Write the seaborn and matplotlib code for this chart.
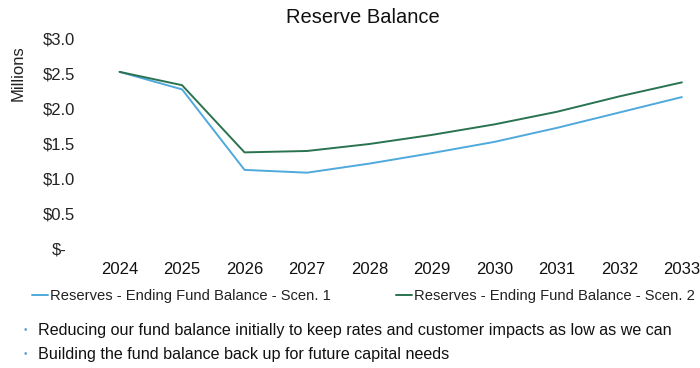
import matplotlib
matplotlib.use("Agg")
import matplotlib.pyplot as plt
import seaborn as sns
import pandas as pd
from matplotlib.lines import Line2D

years = [2024, 2025, 2026, 2027, 2028, 2029, 2030, 2031, 2032, 2033]
scen1 = [2.52, 2.27, 1.12, 1.08, 1.21, 1.36, 1.52, 1.72, 1.94, 2.16]
scen2 = [2.52, 2.33, 1.37, 1.39, 1.49, 1.62, 1.77, 1.95, 2.17, 2.37]
series_names = ["Reserves - Ending Fund Balance - Scen. 1",
                "Reserves - Ending Fund Balance - Scen. 2"]
y_ticks = [0.0, 0.5, 1.0, 1.5, 2.0, 2.5, 3.0]
y_tick_labels = ["$-", "$0.5", "$1.0", "$1.5", "$2.0", "$2.5", "$3.0"]
bullets = [
    "Reducing our fund balance initially to keep rates and customer impacts as low as we can",
    "Building the fund balance back up for future capital needs",
]

sns.set_theme(style="white")
plt.rcParams["font.family"] = ["Liberation Sans", "DejaVu Sans"]

df = pd.DataFrame({
    "year": years * 2,
    "value": scen1 + scen2,
    "series": [series_names[0]] * len(years) + [series_names[1]] * len(years),
})
palette = {series_names[0]: "#4fa9dc", series_names[1]: "#2a7350"}

W, H = 700, 368
fig = plt.figure(figsize=(W / 100, H / 100), dpi=100)
ax = fig.add_axes([0.128, 0.3253, 0.872, 0.5707])

sns.lineplot(data=df, x="year", y="value", hue="series", palette=palette,
             linewidth=1.4, ax=ax, legend=False)

ax.set_ylim(0, 3.0)
ax.set_xlim(2024 - 0.48, 2033 + 0.29)
ax.set_yticks(y_ticks)
ax.set_yticklabels(y_tick_labels, fontsize=12, color="#222222")
ax.set_xticks(years)
ax.set_xticklabels([str(y) for y in years], fontsize=12, color="#111111")
ax.tick_params(axis="x", length=0, pad=10)
ax.tick_params(axis="y", length=0, pad=22)
for lab in ax.get_yticklabels():
    lab.set_horizontalalignment("center")
for s in ax.spines.values():
    s.set_visible(False)
ax.set_xlabel("")
ax.set_ylabel("")

fig.text(0.519, 0.953, "Reserve Balance", ha="center", va="center",
         fontsize=14.5, color="#111111")
fig.text(0.026, 0.80, "Millions", rotation=90, ha="center", va="center",
         fontsize=12, color="#222222")

renderer = fig.canvas.get_renderer()


def fit_text(txt, width_px):
    # shrink/grow a text so it spans the requested width in pixels
    w = txt.get_window_extent(renderer).width
    txt.set_fontsize(txt.get_fontsize() * width_px / w)


# legend text sized so each label spans about 280 px
probe = fig.text(0, 0, series_names[0], fontsize=10)
fit_text(probe, 280)
leg_fs = probe.get_fontsize()
probe.remove()
fs_px = leg_fs * 100 / 72

handles = [Line2D([0], [0], color=palette[n], lw=1.4) for n in series_names]
leg = fig.legend(handles, series_names, loc="center left",
                 bbox_to_anchor=(32 / W, 1 - 296 / H), ncol=2, frameon=False,
                 handlelength=16 / fs_px, handletextpad=2 / fs_px,
                 columnspacing=65 / fs_px, borderpad=0, borderaxespad=0,
                 prop={"size": leg_fs})
for t in leg.get_texts():
    t.set_color("#222222")

texts = []
for i, line in enumerate(bullets):
    yy = 1 - (330 + 24 * i) / H
    fig.text(25 / W, yy, "\u2022", ha="center", va="center",
             fontsize=7, color="#6f9fc6")
    texts.append(fig.text(38 / W, yy, line, ha="left", va="center",
                          fontsize=12, color="#111111"))
fit_text(texts[0], 634)
texts[1].set_fontsize(texts[0].get_fontsize())

fig.savefig("out.png", dpi=100)
